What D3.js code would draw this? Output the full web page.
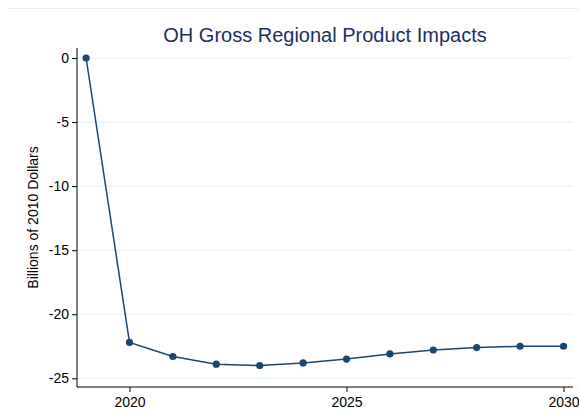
<!DOCTYPE html>
<html>
<head>
<meta charset="utf-8">
<script src="https://cdn.jsdelivr.net/npm/d3@7"></script>
<style>
  body { margin: 0; background: #fff; }
  svg { display: block; font-family: "Liberation Sans", Arial, sans-serif; }
</style>
</head>
<body>
<div class="chart"></div>
<script>
var years = [2019, 2020, 2021, 2022, 2023, 2024, 2025, 2026, 2027, 2028, 2029, 2030];
var values = [0, -22.2, -23.3, -23.9, -24.0, -23.8, -23.5, -23.1, -22.8, -22.6, -22.5, -22.5];
var yTicks = [0, -5, -10, -15, -20, -25];
var xTicks = [2020, 2025, 2030];

var W = 579, H = 414;
var margin = { top: 48, right: 6, bottom: 27, left: 77 };
var width = W - margin.left - margin.right;
var height = H - margin.top - margin.bottom;

var svg = d3.select('.chart')
  .append('svg')
    .attr('width', W)
    .attr('height', H);

// faint frame line at top
svg.append('line')
  .attr('x1', 8).attr('x2', W)
  .attr('y1', 8.5).attr('y2', 8.5)
  .attr('stroke', '#e8eef0');

svg.append('text')
  .attr('x', 325).attr('y', 42)
  .attr('text-anchor', 'middle')
  .attr('font-size', 20)
  .attr('fill', '#1c2f5c')
  .text('OH Gross Regional Product Impacts');

var g = svg.append('g')
  .attr('transform', 'translate(' + margin.left + ',' + margin.top + ')');

var xScale = d3.scaleLinear()
  .domain([2020, 2030])
  .range([129.5 - margin.left, 563.5 - margin.left]);

var yScale = d3.scaleLinear()
  .domain([0, -25])
  .range([58 - margin.top, 378.3 - margin.top]);

// gridlines
g.selectAll('.grid')
  .data(yTicks)
  .enter()
  .append('line')
    .attr('x1', 0).attr('x2', width)
    .attr('y1', d => yScale(d)).attr('y2', d => yScale(d))
    .attr('stroke', '#eaf1f3')
    .attr('stroke-width', 1.2);

var yAxis = d3.axisLeft(yScale)
  .tickValues(yTicks)
  .tickFormat(d => String(d))
  .tickSize(5)
  .tickPadding(3);
var yg = g.append('g').call(yAxis);
yg.select('.domain').attr('d', 'M0,0V' + height);

var xAxis = d3.axisBottom(xScale)
  .tickValues(xTicks)
  .tickFormat(d => String(d))
  .tickSize(5)
  .tickPadding(5);
var xg = g.append('g')
  .attr('transform', 'translate(0,' + height + ')')
  .call(xAxis);
xg.select('.domain').attr('d', 'M0,0H' + width);

[yg, xg].forEach(function (a) {
  a.selectAll('text').attr('font-size', 14).attr('fill', '#000')
    .attr('font-family', '"Liberation Sans", Arial, sans-serif');
  a.selectAll('line, path').attr('stroke', '#000');
});

svg.append('text')
  .attr('transform', 'translate(38,' + (margin.top + height / 2) + ') rotate(-90)')
  .attr('text-anchor', 'middle')
  .attr('font-size', 14)
  .attr('fill', '#000')
  .text('Billions of 2010 Dollars');

var line = d3.line()
  .x((d, i) => xScale(years[i]))
  .y(d => yScale(d));

g.append('path')
  .datum(values)
  .attr('d', line)
  .attr('fill', 'none')
  .attr('stroke', '#1a476f')
  .attr('stroke-width', 1.5);

g.selectAll('circle')
  .data(values)
  .enter()
  .append('circle')
    .attr('cx', (d, i) => xScale(years[i]))
    .attr('cy', d => yScale(d))
    .attr('r', 3.6)
    .attr('fill', '#1a476f');
</script>
</body>
</html>
